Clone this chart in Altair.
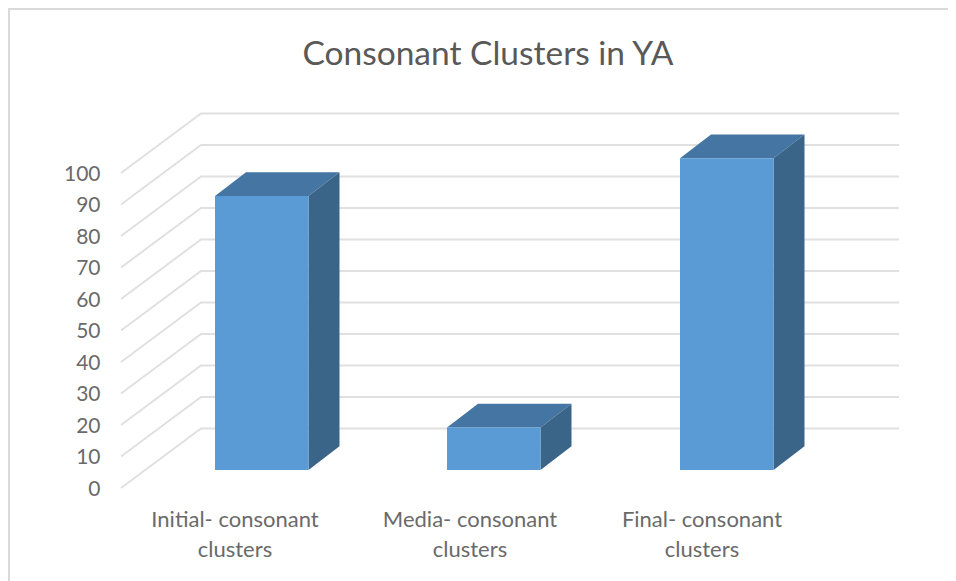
import altair as alt
import pandas as pd

categories = ["Initial- consonant\nclusters", "Media- consonant\nclusters", "Final- consonant\nclusters"]
values = [87, 13.5, 99]
ticks = list(range(0, 101, 10))
title = "Consonant Clusters in YA"

W, H = 940, 573
PX = 3.15            # pixels per value unit
Y0 = 480             # y of value 0 on the front plane, in plot pixels
DOM = [(Y0 - H) / PX, Y0 / PX]

FRONT_X, BACK_X, END_X = 113, 193, 891
WALL = 59.5 / PX     # wall depth in value units
BASE = 18 / PX       # bar front's floor rise
DY = 23.7 / PX
DX = 31
LEFTS = [207, 439, 672]
BW = 93.5
LABEL_X = [227, 462, 694]
LABEL_V = -10

grid = []
for t in ticks:
    grid += [dict(t=t, x=FRONT_X, y=t), dict(t=t, x=BACK_X, y=t + WALL), dict(t=t, x=END_X, y=t + WALL)]

front, side, top, labels = [], [], [], []
for c, v, l, lx in zip(categories, values, LEFTS, LABEL_X):
    r = l + BW
    t = BASE + v
    front.append(dict(c=c, x=l, x2=r, y=BASE, y2=t))
    side += [dict(c=c, x=r, y=BASE, y2=t), dict(c=c, x=r + DX, y=BASE + DY, y2=t + DY)]
    top += [dict(c=c, x=l, y=t, y2=t), dict(c=c, x=l + DX, y=t + DY, y2=t),
            dict(c=c, x=r, y=t + DY, y2=t), dict(c=c, x=r + DX, y=t + DY, y2=t + DY)]
    labels.append(dict(c=c, x=lx, y=LABEL_V))

X = alt.X("x:Q", scale=alt.Scale(domain=[0, W], range=[0, W], nice=False, zero=False), axis=None)
Y = alt.Y("y:Q", scale=alt.Scale(domain=DOM, nice=False, zero=False),
          axis=alt.Axis(values=ticks, offset=-92, domain=False, ticks=False, grid=False, title=None,
                        labelFont="Lato", labelFontSize=21, labelColor="#6a6a6a", labelPadding=0, labelOffset=1))

grid_layer = alt.Chart(pd.DataFrame(grid)).mark_line(color="#e0e0e0", strokeWidth=2).encode(x=X, y=Y, detail="t:N")
front_layer = alt.Chart(pd.DataFrame(front)).mark_rect(color="#5B9BD5").encode(x=X, x2="x2:Q", y=Y, y2="y2:Q")
side_layer = alt.Chart(pd.DataFrame(side)).mark_area(color="#3A6488", orient="vertical").encode(x=X, y=Y, y2="y2:Q", detail="c:N")
top_layer = alt.Chart(pd.DataFrame(top)).mark_area(color="#4575A2", orient="vertical").encode(x=X, y=Y, y2="y2:Q", detail="c:N")
text_layer = alt.Chart(pd.DataFrame(labels)).mark_text(
    font="Lato", fontSize=22, color="#6a6a6a", lineBreak="\n", lineHeight=30, align="center", baseline="middle"
).encode(x=X, y=Y, text="c:N")
frame_left = alt.Chart(pd.DataFrame({"a": [0]})).mark_rule(color="#d9d9d9", strokeWidth=2).encode(
    x=alt.value(1), y=alt.value(0), y2=alt.value(H))
frame_top = alt.Chart(pd.DataFrame({"a": [0]})).mark_rule(color="#d9d9d9", strokeWidth=2).encode(
    x=alt.value(0), x2=alt.value(W), y=alt.value(1))

chart = alt.layer(frame_left, frame_top, grid_layer, top_layer, side_layer, front_layer, text_layer).properties(
    width=W, height=H, padding=0, autosize=alt.AutoSizeParams(type="none"), background="white",
    title=alt.TitleParams(title, orient="top", anchor="middle", offset=-65, dx=10, font="Lato", fontSize=33.5,
                          fontWeight="normal", color="#595959"),
).configure_view(stroke=None)

chart.save("out.html", embed_options={"renderer": "svg", "actions": False})
